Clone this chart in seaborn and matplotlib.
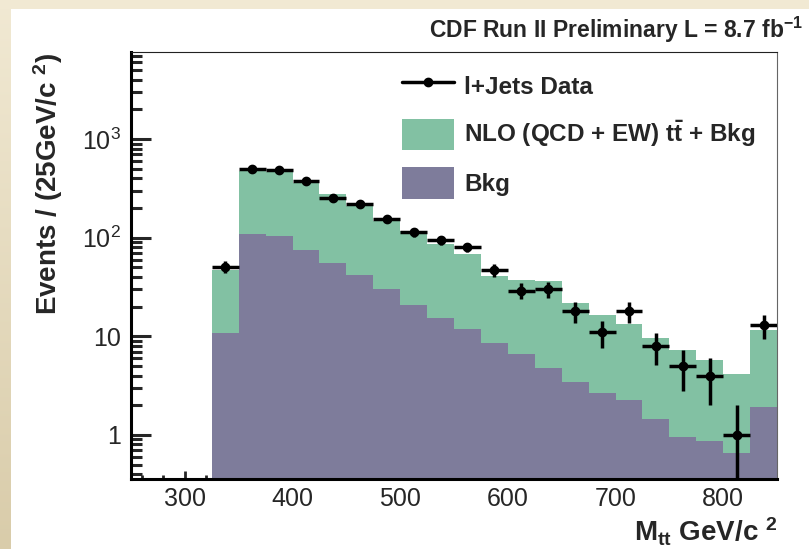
import numpy as np
import pandas as pd
import matplotlib
matplotlib.use("Agg")
import matplotlib.pyplot as plt
import seaborn as sns
from matplotlib.lines import Line2D
from matplotlib.patches import Patch, Rectangle
from matplotlib.ticker import MultipleLocator, LogLocator, NullFormatter
from matplotlib.font_manager import FontProperties
from matplotlib.colors import LinearSegmentedColormap

# ---------------- data ----------------
bin_low = [325, 350, 375, 400, 425, 450, 475, 500, 525, 550, 575,
           600, 625, 650, 675, 700, 725, 750, 775, 800, 825]
bin_width = 25
data_counts = [51, 498, 482, 379, 253, 221, 155, 113, 95, 80, 47,
               29, 30, 18, 11, 18, 8, 5, 4, 1, 13]
total_pred = [47, 470, 465, 360, 280, 208, 147, 116, 87, 68, 41,
              37.5, 36, 21.7, 16.5, 13.4, 9.7, 7.2, 5.8, 4.1, 11.6]
bkg_pred = [10.9, 110, 105, 75.5, 56, 41.8, 30.1, 21, 15.2, 11.9, 8.45,
            6.6, 4.8, 3.45, 2.65, 2.25, 1.45, 0.96, 0.87, 0.65, 1.94]
y_ticks = [1, 10, 100, 1000]
y_tick_labels = ["1", "10", "$10^{2}$", "$10^{3}$"]
legend_labels = ["l+Jets Data", r"NLO (QCD + EW) $\mathbf{t\bar{t}}$ + Bkg", "Bkg"]

GREEN = "#82c1a3"
PURPLE = "#7e7c9b"

# ---------------- style ----------------
sns.set_style("ticks")
plt.rcParams["font.family"] = ["Liberation Sans", "DejaVu Sans"]
plt.rcParams["mathtext.fontset"] = "custom"
plt.rcParams["mathtext.rm"] = "Liberation Sans"
plt.rcParams["mathtext.it"] = "Liberation Sans:italic"
plt.rcParams["mathtext.bf"] = "Liberation Sans:bold"
plt.rcParams["mathtext.default"] = "regular"

W, H = 809, 549
fig = plt.figure(figsize=(W / 100, H / 100), dpi=100)
fig.patch.set_facecolor("white")

# slide-like cream border (top strip + left gradient strip)
bg = fig.add_axes([0, 0, 1, 1], zorder=-10)
bg.axis("off")
bg.add_patch(Rectangle((0, H - 9), W, 9, color="#f1e9d3", lw=0))
grad = np.linspace(0, 1, 256).reshape(-1, 1)
cmap = LinearSegmentedColormap.from_list("cream", ["#d9ccaa", "#f1e9d3"])
bg.imshow(grad, extent=(0, 11, 0, H), aspect="auto", cmap=cmap, origin="lower")
bg.set_xlim(0, W)
bg.set_ylim(0, H)

# ---------------- main axes ----------------
L, R, T, B = 131, 777, 52, 479
ax = fig.add_axes([L / W, 1 - B / H, (R - L) / W, (B - T) / H])
ax.set_facecolor("white")

edges = bin_low + [bin_low[-1] + bin_width]
centers = [b + bin_width / 2 for b in bin_low]
df = pd.DataFrame({"center": centers, "total": total_pred, "bkg": bkg_pred,
                   "data": data_counts})

sns.histplot(data=df, x="center", weights="total", bins=edges, element="step",
             fill=True, color=GREEN, alpha=1, linewidth=0, ax=ax)
sns.histplot(data=df, x="center", weights="bkg", bins=edges, element="step",
             fill=True, color=PURPLE, alpha=1, linewidth=0, ax=ax)

ax.errorbar(df["center"], df["data"], xerr=bin_width / 2,
            yerr=np.sqrt(df["data"].to_numpy()), fmt="o", color="black",
            ms=6, elinewidth=2.5, capsize=0, zorder=5)

ax.set_yscale("log", nonpositive="clip")
ax.set_xlim(250, 850)
ax.set_ylim(0.357, 7640)
ax.set_xlabel("")
ax.set_ylabel("")

ax.xaxis.set_major_locator(MultipleLocator(100))
ax.xaxis.set_minor_locator(MultipleLocator(20))
ax.yaxis.set_minor_locator(LogLocator(base=10, subs=np.arange(2, 10), numticks=20))
ax.set_yticks(y_ticks)
ax.set_yticklabels(y_tick_labels)
ax.yaxis.set_minor_formatter(NullFormatter())

ax.tick_params(axis="y", which="major", direction="in", length=14.5, width=2.2,
               left=True, right=False, labelsize=18, pad=7)
ax.tick_params(axis="y", which="minor", direction="in", length=8, width=2.2,
               left=True, right=False)
ax.tick_params(axis="x", which="major", direction="in", length=6, width=2.0,
               bottom=True, top=False, labelsize=18, pad=6)
ax.tick_params(axis="x", which="minor", direction="in", length=3, width=2.0,
               bottom=True, top=False)

for s in ["left", "bottom"]:
    ax.spines[s].set_linewidth(2.2)
    ax.spines[s].set_color("black")
ax.spines["top"].set_linewidth(0.8)
ax.spines["top"].set_color("#222222")
ax.spines["right"].set_linewidth(0.8)
ax.spines["right"].set_color("#666666")
ax.spines["top"].set_visible(True)
ax.spines["right"].set_visible(True)

# ---------------- legend ----------------
handles = [Line2D([], [], color="black", lw=2.5, marker="o", ms=6),
           Patch(facecolor=GREEN, edgecolor="none"),
           Patch(facecolor=PURPLE, edgecolor="none")]
leg = ax.legend(handles, legend_labels, loc="upper left",
                bbox_to_anchor=((402 - L) / (R - L), 1 - (70 - T) / (B - T)),
                frameon=False,
                prop=FontProperties(family="Liberation Sans", weight="bold", size=17.5),
                handlelength=2.15, handleheight=1.6, labelspacing=0.72,
                handletextpad=0.42, borderpad=0, borderaxespad=0)

# ---------------- texts ----------------
fig.text(803 / W, 1 - 30 / H, r"CDF Run II Preliminary L = 8.7 fb$^{\mathbf{-1}}$",
         ha="right", va="center", fontsize=16.5, fontweight="bold")
fig.text(48 / W, 1 - 53 / H, r"Events / (25GeV/c $^{\mathbf{2}}$)",
         rotation=90, ha="center", va="top", fontsize=20, fontweight="bold")
fig.text(777 / W, 1 - 541 / H, r"M$_{\mathbf{tt}}$ GeV/c $^{\mathbf{2}}$",
         ha="right", va="baseline", fontsize=20, fontweight="bold")

fig.savefig("out.png", dpi=100, facecolor=fig.get_facecolor())
